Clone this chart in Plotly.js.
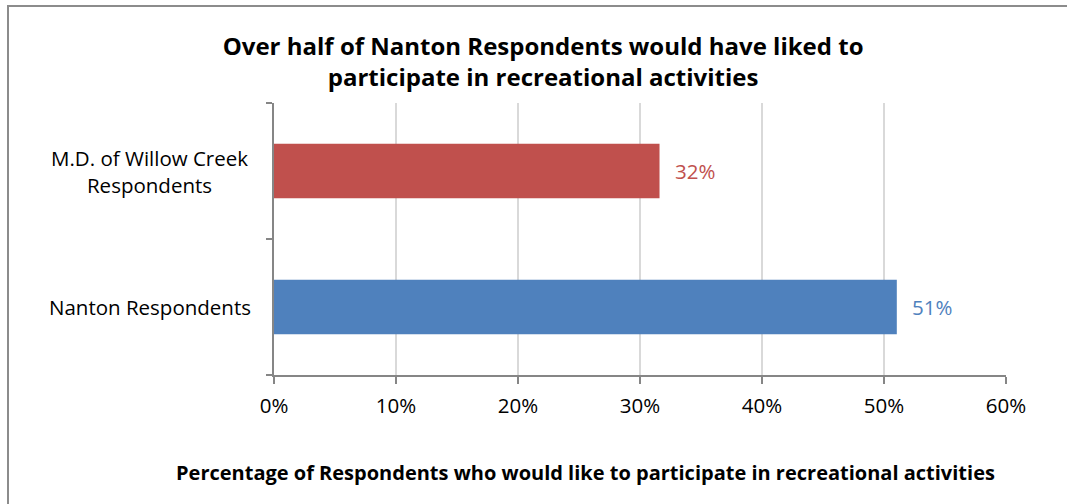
<!DOCTYPE html>
<html>
<head>
<meta charset="utf-8">
<script src="https://cdn.plot.ly/plotly-3.0.1.min.js"></script>
<style>
  html, body { margin: 0; padding: 0; background: #fff; }
  #wrap { position: relative; width: 1067px; height: 504px; overflow: hidden; }
  #chart { width: 1067px; height: 504px; }
  #frame { position: absolute; left: 7px; top: 5px; width: 1070px; height: 510px; border: 2px solid #8c8c8c; box-sizing: border-box; pointer-events: none; }
</style>
</head>
<body>
<div id="wrap"><div id="chart"></div><div id="frame"></div></div>
<script>
const categories = ["Nanton Respondents", "M.D. of Willow Creek<br>Respondents"];
const values = [51.05, 31.6];
const valueLabels = ["51%", "32%"];
const barColors = ["#4F81BD", "#C0504D"];
const xTickVals = [0, 10, 20, 30, 40, 50, 60];
const xTickText = ["0%", "10%", "20%", "30%", "40%", "50%", "60%"];
const xAxisTitle = "Percentage of Respondents who would like to participate in recreational activities";
const chartTitle = "Over half of Nanton Respondents would have liked to<br>participate in recreational activities";

const FONT = "'Open Sans', Lato, sans-serif";

const trace = {
  type: "bar",
  orientation: "h",
  x: values,
  y: categories,
  marker: { color: barColors, line: { width: 0 } },
  hoverinfo: "none"
};

const annotations = [];
categories.forEach((c, i) => {
  annotations.push({
    x: values[i], y: c, xref: "x", yref: "y",
    text: valueLabels[i], showarrow: false,
    xanchor: "left", xshift: 13,
    font: { family: FONT, size: 20.5, color: barColors[i] }
  });
  annotations.push({
    x: -0.1694, y: c, xref: "paper", yref: "y",
    text: c, showarrow: false, xanchor: "center", align: "center",
    font: { family: FONT, size: 20.5, color: "#000" }
  });
});
annotations.push({
  x: 0.426, y: -(472 - 375) / 272, xref: "paper", yref: "paper",
  text: "<b>" + xAxisTitle + "</b>", showarrow: false,
  xanchor: "center", yanchor: "middle",
  font: { family: FONT, size: 20, color: "#000" }
});

const layout = {
  width: 1067, height: 504,
  margin: { l: 274, r: 61, t: 103, b: 129 },
  paper_bgcolor: "#fff", plot_bgcolor: "#fff",
  showlegend: false,
  bargap: 0.6,
  title: {
    text: "<b>" + chartTitle + "</b>",
    x: 0.509, xref: "container", xanchor: "center",
    y: 1 - 55/504, yref: "container", yanchor: "middle",
    font: { family: FONT, size: 24, color: "#000" }
  },
  xaxis: {
    range: [0, 60], tickvals: xTickVals, ticktext: xTickText,
    showgrid: true, gridcolor: "#d9d9d9", gridwidth: 2,
    showline: true, linecolor: "#868686", linewidth: 2,
    ticks: "outside", ticklen: 7, tickcolor: "#868686", tickwidth: 2,
    zeroline: false,
    tickfont: { family: FONT, size: 20.5, color: "#000" },
    ticklabelstandoff: 4,
    automargin: false, fixedrange: true
  },
  yaxis: {
    type: "category", categoryorder: "array", categoryarray: categories,
    range: [-0.5, 1.5],
    showgrid: false, zeroline: false,
    showline: true, linecolor: "#868686", linewidth: 2,
    ticks: "outside", tickson: "boundaries", ticklen: 6, tickcolor: "#868686", tickwidth: 2,
    showticklabels: false,
    automargin: false, fixedrange: true
  },
  annotations: annotations
};

Plotly.newPlot("chart", [trace], layout, { staticPlot: true, displayModeBar: false });
</script>
</body>
</html>
